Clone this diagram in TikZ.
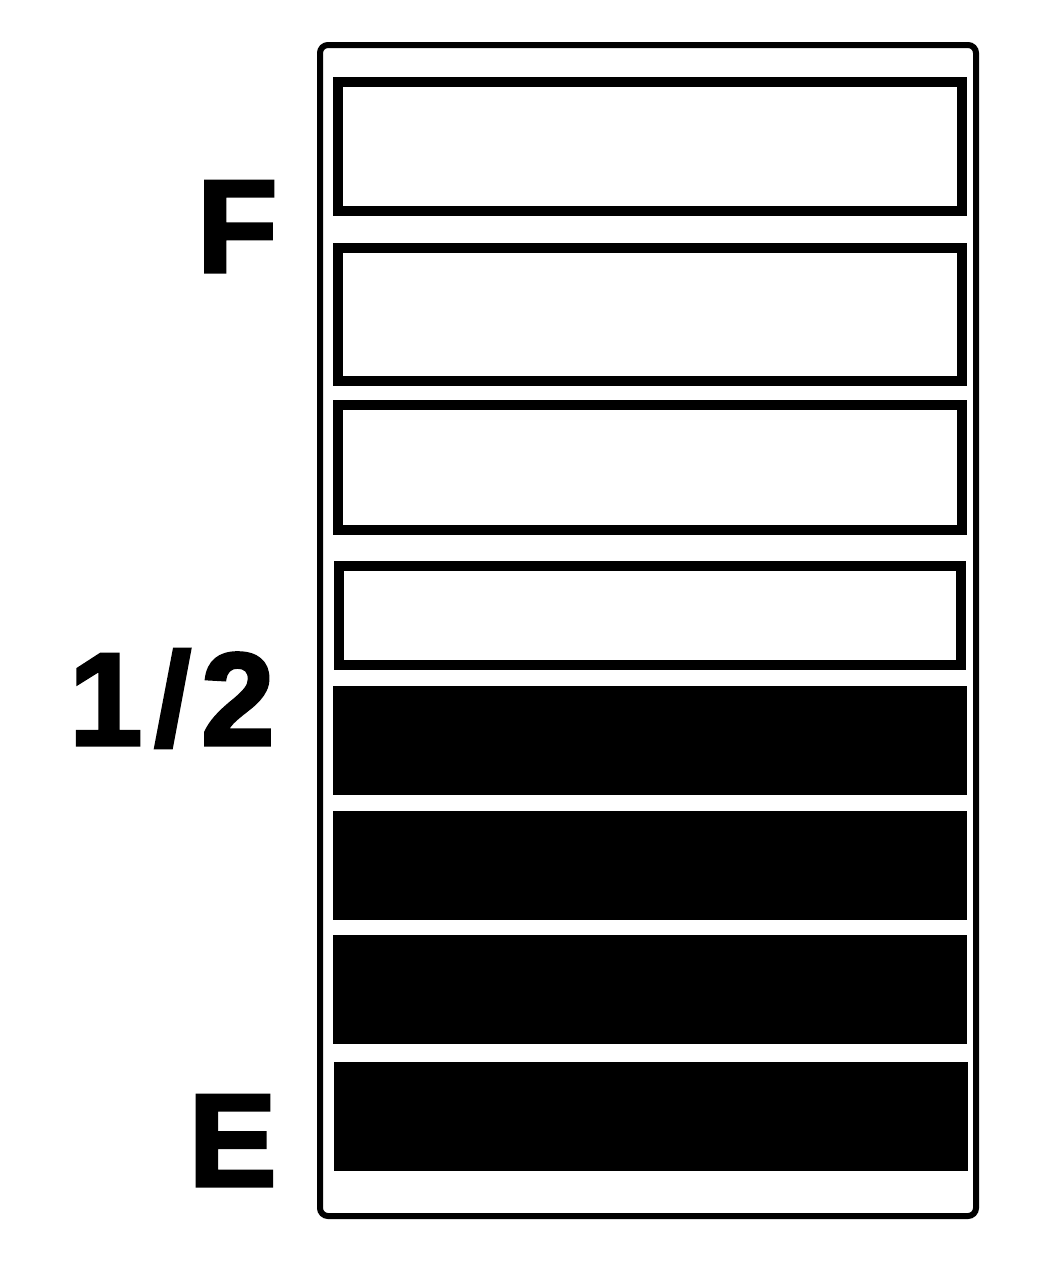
\documentclass[tikz,border=0pt]{standalone}
\usepackage{fontspec}
\newfontfamily\gaugefont[FakeBold=2.5]{Liberation Sans Bold}
\usetikzlibrary{positioning}

\begin{document}
\begin{tikzpicture}[
    x=0.5pt, y=-0.5pt,
    frame/.style={draw=black, line width=3pt, rounded corners=4pt},
    hollow/.style={draw=black, line width=5pt, fill=white},
    solid/.style={fill=black},
    mark label/.style={font=\gaugefont\fontsize{66}{66}\selectfont, inner sep=0pt, anchor=base east}
]
  \useasboundingbox (0,0) rectangle (1057,1280);

  % gauge frame
  \draw[frame] (320,45) rectangle (976,1216);

  % empty segments (upper half)
  \foreach \xa/\ya/\xb/\yb in {333/77/967/216, 333/243/967/386, 333/400/967/535, 334/561/966/670}{
    \draw[hollow] (\xa+5,\ya+5) rectangle (\xb-5,\yb-5);
  }

  % full segments (lower half)
  \foreach \ya/\yb in {686/795, 811/920, 935/1044}{
    \fill[solid] (333,\ya) rectangle (967,\yb);
  }
  \fill[solid] (334,1062) rectangle (968,1171);

  % scale labels
  \node[mark label] (full) at (278,272)  {F};
  \node[mark label] (half) at (275,745)  {1\kern6pt/\kern5pt2};
  \node[mark label] (empty) at (277,1186) {E};
\end{tikzpicture}
\end{document}
